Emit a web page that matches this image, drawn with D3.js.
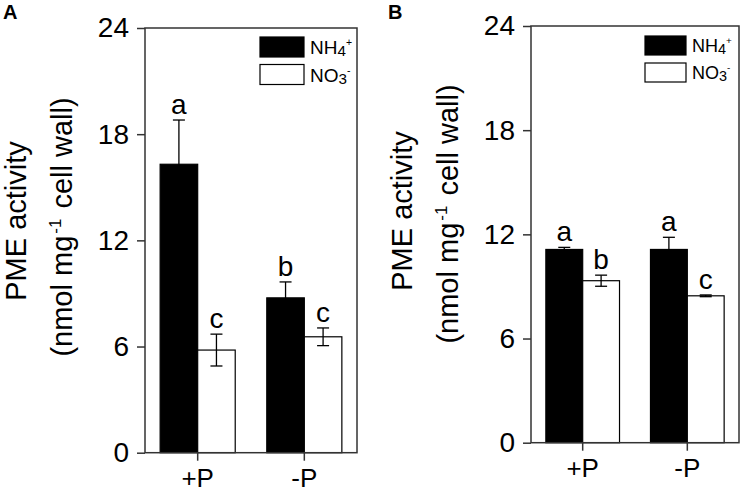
<!DOCTYPE html>
<html>
<head>
<meta charset="utf-8">
<script src="https://cdn.jsdelivr.net/npm/d3@7"></script>
<style>
  body { margin: 0; background: #fff; }
  svg { display: block; font-family: "Liberation Sans", Arial, sans-serif; }
</style>
</head>
<body>
<div id="chart"></div>
<script>
const groups = ["+P", "-P"];
const series = ["NH4", "NO3"];
const yTicks = [0, 6, 12, 18, 24];

// panel A
const nh4A = [16.3, 8.75];
const no3A = [5.8, 6.55];
const nh4ErrA = [2.5, 0.9];
const no3ErrA = [0.9, 0.5];
const nh4LettersA = ["a", "b"];
const no3LettersA = ["c", "c"];

// panel B
const nh4B = [11.13, 11.13];
const no3B = [9.33, 8.46];
const nh4ErrB = [0.12, 0.7];
const no3ErrB = [0.32, 0.05];
const nh4LettersB = ["a", "a"];
const no3LettersB = ["b", "c"];

const width = 742, height = 492;
const svg = d3.select("#chart").append("svg")
    .attr("width", width)
    .attr("height", height);

function rows(nh4, no3, nh4Err, no3Err, nh4L, no3L) {
  return groups.map((g, i) => ({
    group: g,
    bars: [
      { key: "NH4", value: nh4[i], err: nh4Err[i], letter: nh4L[i] },
      { key: "NO3", value: no3[i], err: no3Err[i], letter: no3L[i] }
    ]
  }));
}

function panel(opt, data) {
  const g = svg.append("g");
  const x = d3.scaleBand().domain(groups)
      .range([opt.left, opt.right])
      .paddingInner(0.296).paddingOuter(0.142);
  const xs = d3.scaleBand().domain(series).range([0, x.bandwidth()]);
  const y = d3.scaleLinear().domain([0, 24]).range([opt.bottom, opt.top]);

  // bars
  const grp = g.selectAll("g.grp").data(data).enter().append("g")
      .attr("transform", d => "translate(" + x(d.group) + ",0)");

  grp.selectAll("rect").data(d => d.bars).enter().append("rect")
      .attr("x", d => xs(d.key))
      .attr("y", d => y(d.value))
      .attr("width", xs.bandwidth())
      .attr("height", d => y(0) - y(d.value))
      .attr("fill", d => d.key == "NH4" ? "#000" : "#fff")
      .attr("stroke", "#000")
      .attr("stroke-width", 1.2);

  // error bars
  const eb = grp.selectAll("g.err").data(d => d.bars).enter().append("g")
      .attr("stroke", "#000")
      .attr("stroke-width", 1.3);
  const cx = d => xs(d.key) + xs.bandwidth() / 2;
  eb.append("line")
      .attr("x1", cx).attr("x2", cx)
      .attr("y1", d => y(d.value - d.err))
      .attr("y2", d => y(d.value + d.err));
  eb.append("line")
      .attr("x1", d => cx(d) - 6).attr("x2", d => cx(d) + 6)
      .attr("y1", d => y(d.value + d.err))
      .attr("y2", d => y(d.value + d.err));
  eb.append("line")
      .attr("x1", d => cx(d) - 6).attr("x2", d => cx(d) + 6)
      .attr("y1", d => y(d.value - d.err))
      .attr("y2", d => y(d.value - d.err));

  grp.selectAll("text.letter").data(d => d.bars).enter().append("text")
      .attr("class", "letter")
      .attr("x", cx)
      .attr("y", d => y(d.value + d.err) - 6)
      .attr("text-anchor", "middle")
      .attr("font-size", 28)
      .text(d => d.letter);

  // frame
  g.append("rect")
      .attr("x", opt.left).attr("y", opt.top)
      .attr("width", opt.right - opt.left)
      .attr("height", opt.bottom - opt.top)
      .attr("fill", "none")
      .attr("stroke", "#333")
      .attr("stroke-width", 1.5);

  // axes
  const ya = g.append("g")
      .attr("transform", "translate(" + opt.left + ",0)")
      .call(d3.axisLeft(y).tickValues(yTicks).tickSize(8).tickPadding(8));
  ya.select(".domain").remove();
  ya.selectAll("line").attr("stroke", "#333").attr("stroke-width", 1.5);
  ya.selectAll("text").attr("font-size", 28).attr("fill", "#000")
      .attr("font-family", "Liberation Sans, Arial, sans-serif");

  const xa = g.append("g")
      .attr("transform", "translate(0," + opt.bottom + ")")
      .call(d3.axisBottom(x).tickSize(8).tickPadding(8));
  xa.select(".domain").remove();
  xa.selectAll("line").attr("stroke", "#333").attr("stroke-width", 1.5);
  xa.selectAll("text").attr("font-size", 26).attr("fill", "#000")
      .attr("font-family", "Liberation Sans, Arial, sans-serif");

  // y label
  g.append("text")
      .attr("transform", "translate(" + opt.lab1 + "," + opt.labY + ") rotate(-90)")
      .attr("text-anchor", "middle")
      .attr("font-size", 29)
      .text("PME activity");
  const t2 = g.append("text")
      .attr("transform", "translate(" + opt.lab2 + "," + opt.labY2 + ") rotate(-90)")
      .attr("text-anchor", "middle")
      .attr("font-size", 29);
  t2.append("tspan").text("(nmol mg");
  t2.append("tspan").attr("font-size", 17).attr("dx", 2).attr("dy", -11).text("-1");
  t2.append("tspan").attr("dx", 10).attr("dy", 11).text("cell wall)");

  // legend
  const leg = g.append("g");
  series.forEach((s, i) => {
    leg.append("rect")
        .attr("x", opt.legX).attr("y", opt.legY + i * opt.legStep)
        .attr("width", opt.legW).attr("height", opt.legH)
        .attr("fill", i == 0 ? "#000" : "#fff")
        .attr("stroke", "#000").attr("stroke-width", 1.2);
    const t = leg.append("text")
        .attr("x", opt.legX + opt.legW + 6)
        .attr("y", opt.legY + i * opt.legStep + opt.legH - 3)
        .attr("font-size", opt.legFont);
    t.append("tspan").text(s.slice(0, 2));
    t.append("tspan").attr("font-size", opt.legFont * 0.8).attr("dy", 2).text(s.slice(2));
    t.append("tspan").attr("font-size", opt.legFont * 0.55).attr("dy", -10).text(i == 0 ? "+" : "-");
  });

  g.append("text")
      .attr("x", opt.tagX).attr("y", 19)
      .attr("font-size", 20)
      .attr("font-weight", "bold")
      .text(opt.tag);
}

panel({
  left: 145, right: 357, top: 28, bottom: 452.7,
  lab1: 26, lab2: 72, labY: 221, labY2: 227,
  legX: 260, legY: 37, legStep: 27.5, legW: 44, legH: 20, legFont: 19,
  tagX: 3, tag: "A"
}, rows(nh4A, no3A, nh4ErrA, no3ErrA, nh4LettersA, no3LettersA));

panel({
  left: 531, right: 739, top: 26, bottom: 442.7,
  lab1: 412, lab2: 458, labY: 211, labY2: 214,
  legX: 645, legY: 36, legStep: 27, legW: 41, legH: 19, legFont: 18,
  tagX: 388, tag: "B"
}, rows(nh4B, no3B, nh4ErrB, no3ErrB, nh4LettersB, no3LettersB));
</script>
</body>
</html>
